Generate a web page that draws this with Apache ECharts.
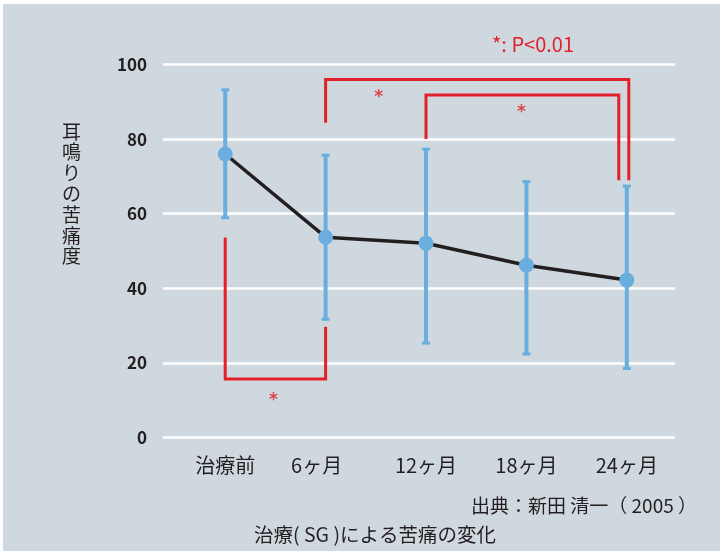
<!DOCTYPE html>
<html>
<head>
<meta charset="utf-8">
<script src="https://cdn.jsdelivr.net/npm/echarts@6/dist/echarts.min.js"></script>
<style>
html,body{margin:0;padding:0;background:#fff;}
#c{width:720px;height:551px;}
</style>
</head>
<body>
<div id="c"></div>
<script>
// ---- data ----
const categories = ['治療前', '6ヶ月', '12ヶ月', '18ヶ月', '24ヶ月'];
const means = [76.0, 53.7, 52.1, 46.2, 42.2];
const upper = [93.2, 75.7, 77.3, 68.6, 67.4];
const lower = [58.9, 31.7, 25.3, 22.4, 18.5];
const yTicks = [0, 20, 40, 60, 80, 100];
// significance brackets: [category position, value]
const bracketA = [[0, 53.6], [0, 15.7], [1, 15.7], [1, 29.7]];
const bracketB = [[1, 84.4], [1, 96.0], [4.02, 96.0], [4.02, 69.0]];
const bracketC = [[2, 80.0], [2, 91.8], [3.92, 91.8], [3.92, 69.0]];
const stars = [[0.48, 11.1], [1.53, 92.3], [2.95, 88.1]];
const yName = '耳鳴りの苦痛度';
const sigNote = '*: P<0.01';
const sourceNote = '出典：新田 清一（ 2005 ）';
const caption = '治療( SG )による苦痛の変化';

const BG = '#cfd8df';
const BLUE = '#6aaee0';
const RED = '#e3202a';
const DARK = '#231f20';
const FONT = '"Noto Sans CJK JP", "Noto Sans", sans-serif';

const chart = echarts.init(document.getElementById('c'), null, {renderer: 'canvas'});

const errData = categories.map((c, i) => [i, upper[i], lower[i]]);
const meanData = categories.map((c, i) => [i, means[i]]);

function bracketSeries(data) {
  return {
    type: 'line', xAxisIndex: 0, yAxisIndex: 0, data: data,
    symbol: 'none', silent: true, z: 3,
    lineStyle: {color: RED, width: 3, cap: 'butt', join: 'miter'}
  };
}

const option = {
  backgroundColor: BG,
  animation: false,
  grid: [
    {left: 175, right: 43, top: 64.5, bottom: 113.5},
    {left: 163, right: 45, top: 64.5, bottom: 113.5}
  ],
  xAxis: [
    {type: 'value', gridIndex: 0, min: -0.5, max: 4.5, show: false},
    {type: 'category', gridIndex: 0, position: 'bottom', data: categories, boundaryGap: true,
      axisLine: {show: false}, axisTick: {show: false}, splitLine: {show: false},
      axisLabel: {interval: 0, hideOverlap: false, color: DARK, fontSize: 20, fontFamily: FONT, margin: 18,
        formatter: function (v, i) { return i === 1 ? '{s|' + v + '}' : v; },
        rich: {s: {fontSize: 20, fontFamily: FONT, color: DARK, padding: [0, 18, 0, 0]}}}},
    {type: 'value', gridIndex: 1, min: 0, max: 1, show: false}
  ],
  yAxis: [
    {type: 'value', gridIndex: 0, min: 0, max: 100, interval: 20, show: false},
    {type: 'value', gridIndex: 1, min: yTicks[0], max: yTicks[yTicks.length - 1], interval: 20,
      axisLine: {show: false}, axisTick: {show: false},
      splitLine: {show: true, lineStyle: {color: '#ffffff', width: 2.5}},
      axisLabel: {color: DARK, fontSize: 17, fontWeight: 'bold', fontFamily: FONT, margin: 16}}
  ],
  graphic: [
    {type: 'rect', shape: {x: 0, y: 0, width: 720, height: 4}, style: {fill: '#ffffff'}, silent: true},
    {type: 'rect', shape: {x: 0, y: 0, width: 3, height: 551}, style: {fill: '#ffffff'}, silent: true},
    {type: 'text', left: 62, top: 121,
      style: {text: yName.split('').join('\n'), fill: DARK, font: '19px ' + FONT, lineHeight: 20.8, textAlign: 'center'}},
    {type: 'text', x: 533, y: 44,
      style: {text: sigNote, fill: RED, font: '20px ' + FONT, textAlign: 'center', textVerticalAlign: 'middle'}},
    {type: 'text', x: 697, y: 506,
      style: {text: sourceNote, fill: DARK, font: '19px ' + FONT, textAlign: 'right', textVerticalAlign: 'middle'}},
    {type: 'text', x: 375, y: 535,
      style: {text: caption, fill: DARK, font: '19.5px ' + FONT, textAlign: 'center', textVerticalAlign: 'middle'}}
  ],
  series: [
    {
      type: 'custom', xAxisIndex: 0, yAxisIndex: 0, data: errData, z: 2, silent: true,
      renderItem: function (params, api) {
        const x = api.value(0);
        const top = api.coord([x, api.value(1)]);
        const bot = api.coord([x, api.value(2)]);
        const cw = 4;
        const st = {stroke: BLUE, lineWidth: 4};
        const cs = {stroke: BLUE, lineWidth: 3};
        return {type: 'group', children: [
          {type: 'line', shape: {x1: top[0], y1: top[1], x2: bot[0], y2: bot[1]}, style: st},
          {type: 'line', shape: {x1: top[0] - cw, y1: top[1], x2: top[0] + cw, y2: top[1]}, style: cs},
          {type: 'line', shape: {x1: bot[0] - cw, y1: bot[1], x2: bot[0] + cw, y2: bot[1]}, style: cs}
        ]};
      }
    },
    {
      type: 'line', xAxisIndex: 0, yAxisIndex: 0, data: meanData, z: 4, silent: true,
      symbol: 'circle', symbolSize: 15,
      itemStyle: {color: BLUE},
      lineStyle: {color: DARK, width: 3.5}
    },
    bracketSeries(bracketA),
    bracketSeries(bracketB),
    bracketSeries(bracketC),
    {
      type: 'scatter', xAxisIndex: 0, yAxisIndex: 0, data: stars, symbolSize: 0, silent: true, z: 5,
      label: {show: true, position: 'inside', formatter: '*', color: RED, fontSize: 17, fontWeight: 'bold',
        fontFamily: '"DejaVu Sans", sans-serif', offset: [0, 4]}
    }
  ]
};
chart.setOption(option);
</script>
</body>
</html>
